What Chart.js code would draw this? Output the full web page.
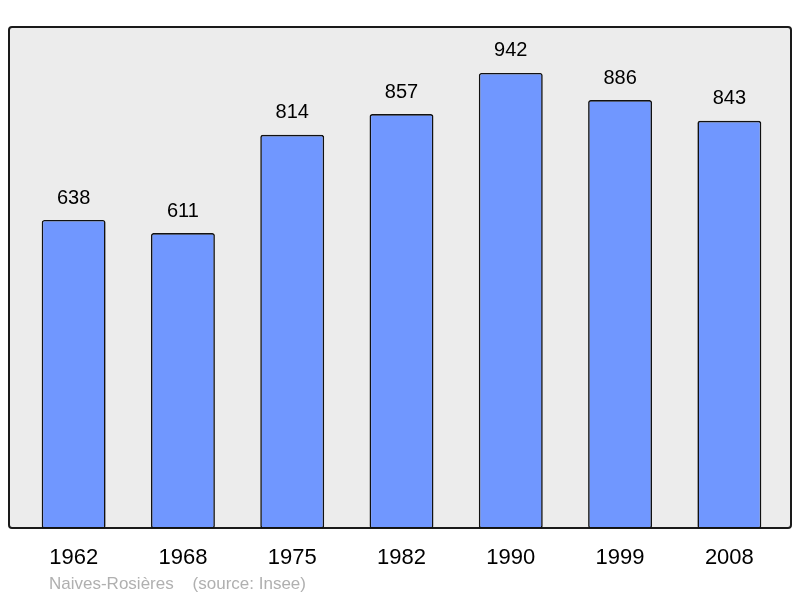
<!DOCTYPE html>
<html>
<head>
<meta charset="utf-8">
<script src="https://cdn.jsdelivr.net/npm/chart.js@4"></script>
<style>
  html, body { margin: 0; padding: 0; background: #fff; }
  #wrap { width: 800px; height: 598px; }
</style>
</head>
<body>
<div id="wrap"><canvas id="popChart"></canvas></div>
<script>
const years = ['1962', '1968', '1975', '1982', '1990', '1999', '2008'];
const population = [638, 611, 814, 857, 942, 886, 843];
const sourceText = 'Naives-Rosières    (source: Insee)';

// grey panel with dark rounded frame behind the bars
const framePlugin = {
    id: 'frame',
    beforeDraw(chart) {
        const c = chart.ctx;
        c.save();
        c.beginPath();
        c.roundRect(9, 27, 782, 501, 3);
        c.fillStyle = '#ececec';
        c.fill();
        c.lineWidth = 2;
        c.strokeStyle = '#1a1a1a';
        c.stroke();
        c.restore();
    },
    afterDraw(chart) {
        const c = chart.ctx;
        c.save();
        c.font = '17px "Liberation Sans", Arial, sans-serif';
        c.fillStyle = '#b0b0b0';
        c.textBaseline = 'middle';
        c.fillText(sourceText, 49, 584);
        c.restore();
    }
};

// value above each bar
const valueLabels = {
    id: 'valueLabels',
    afterDatasetsDraw(chart) {
        const c = chart.ctx;
        const meta = chart.getDatasetMeta(0);
        c.save();
        c.font = '20px "Liberation Sans", Arial, sans-serif';
        c.fillStyle = '#000';
        c.textAlign = 'center';
        c.textBaseline = 'middle';
        meta.data.forEach((bar, i) => {
            c.fillText(population[i], bar.x, bar.y - 22);
        });
        c.restore();
    }
};

new Chart(document.getElementById('popChart'), {
    type: 'bar',
    data: {
        labels: years,
        datasets: [{
            data: population,
            backgroundColor: '#7097ff',
            borderColor: '#111',
            borderWidth: 1.6,
            borderRadius: 2.5,
            borderSkipped: false,
            barPercentage: 0.585,
            categoryPercentage: 1
        }]
    },
    options: {
        responsive: true,
        maintainAspectRatio: false,
        animation: false,
        layout: { padding: { top: 27, left: 19, right: 16, bottom: 11 } },
        plugins: {
            legend: { display: false },
            tooltip: { enabled: false }
        },
        scales: {
            x: {
                grid: { display: false, drawTicks: false },
                border: { display: false },
                ticks: {
                    color: '#000',
                    padding: 16,
                    font: { family: '"Liberation Sans", Arial, sans-serif', size: 22 }
                }
            },
            y: {
                display: false,
                min: 0,
                max: 1037
            }
        }
    },
    plugins: [framePlugin, valueLabels]
});
</script>
</body>
</html>
